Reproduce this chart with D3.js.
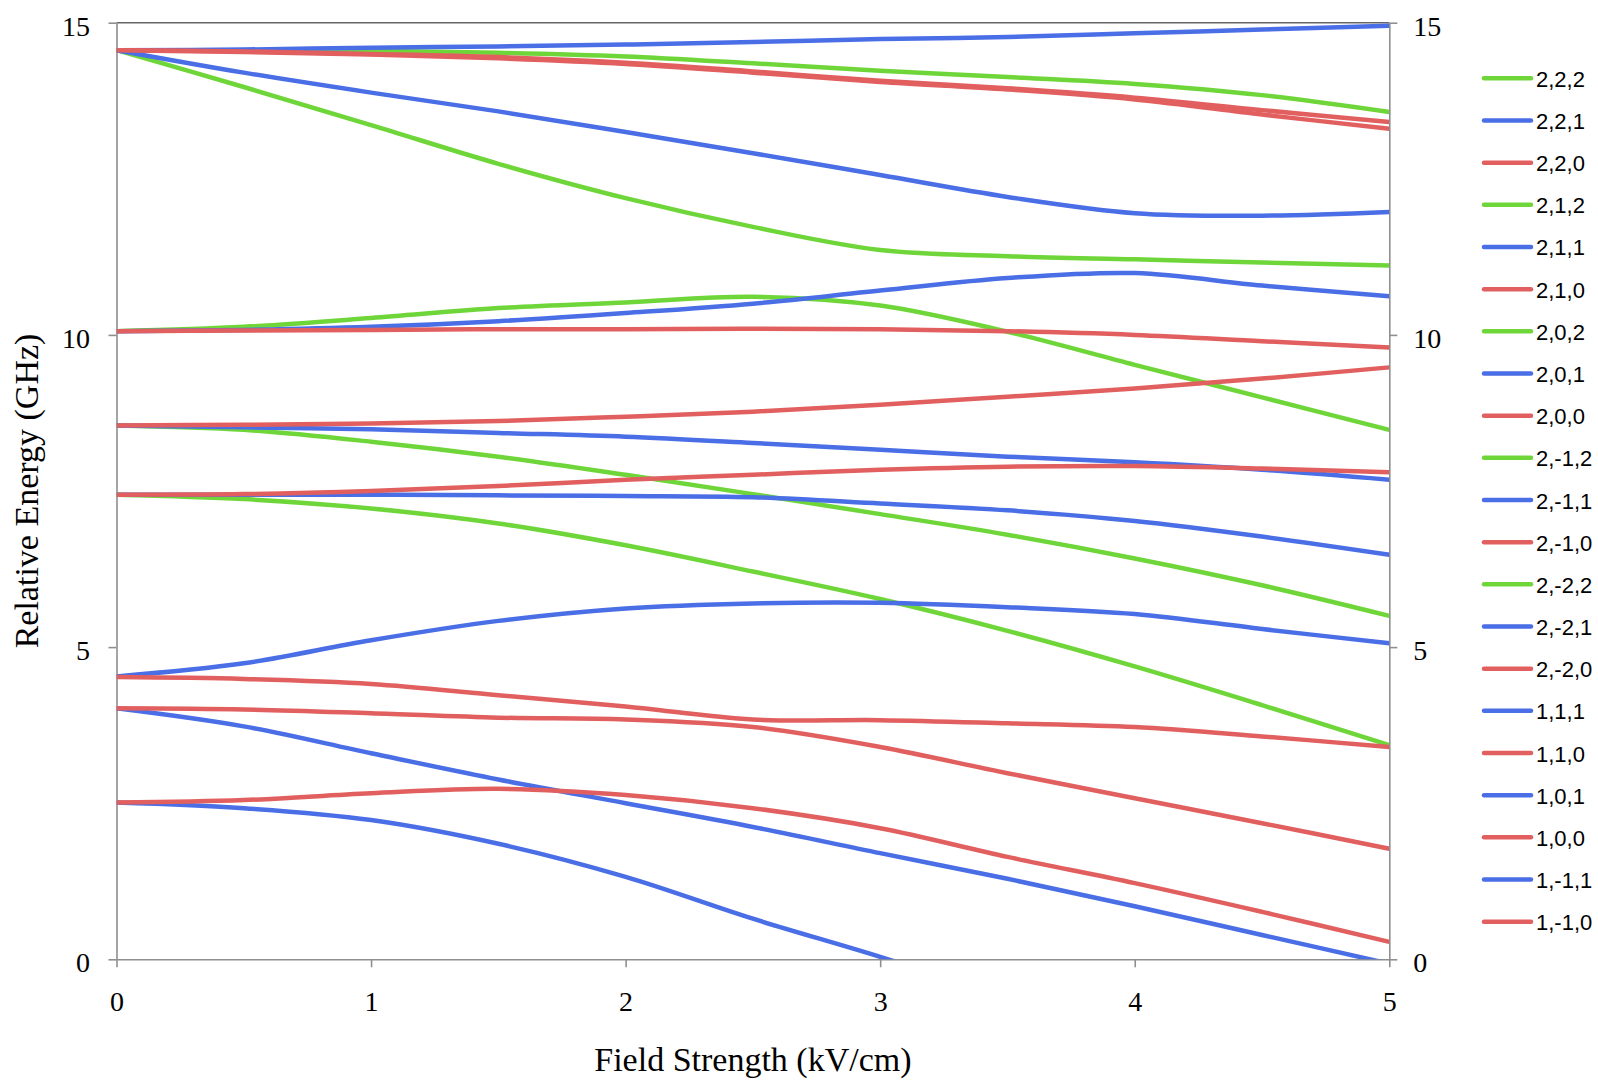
<!DOCTYPE html>
<html>
<head>
<meta charset="utf-8">
<script src="https://cdn.jsdelivr.net/npm/d3@7"></script>
<style>
  html, body { margin: 0; padding: 0; background: #fff; }
  svg { display: block; }
</style>
</head>
<body>
<svg id="chart" width="1598" height="1081"></svg>
<script>
// ---------------- data ----------------
const fieldStrength = [0, 0.5, 1, 1.5, 2, 2.5, 3, 3.5, 4, 4.5, 5];
const xTicks = [0, 1, 2, 3, 4, 5];
const yTicks = [0, 5, 10, 15];

const e222  = [14.56, 14.56, 14.55, 14.52, 14.46, 14.35, 14.23, 14.13, 14.02, 13.84, 13.57];
const e221  = [14.56, 14.57, 14.60, 14.62, 14.65, 14.69, 14.74, 14.77, 14.83, 14.89, 14.95];
const e220  = [14.56, 14.54, 14.50, 14.45, 14.36, 14.22, 14.07, 13.95, 13.80, 13.60, 13.41];
const e212  = [14.56, 13.97, 13.36, 12.74, 12.19, 11.73, 11.36, 11.26, 11.21, 11.16, 11.11];
const e211  = [14.56, 14.20, 13.88, 13.58, 13.25, 12.91, 12.56, 12.21, 11.95, 11.91, 11.97];
const e210  = [14.56, 14.53, 14.49, 14.43, 14.34, 14.20, 14.05, 13.93, 13.77, 13.53, 13.30];
const e202  = [10.06, 10.13, 10.27, 10.43, 10.52, 10.61, 10.47, 10.05, 9.52, 9.00, 8.48];
const e201  = [10.06, 10.08, 10.13, 10.22, 10.35, 10.50, 10.71, 10.91, 10.99, 10.79, 10.62];
const e200  = [10.06, 10.07, 10.08, 10.09, 10.09, 10.10, 10.09, 10.06, 10.00, 9.90, 9.80];
const e2m12 = [8.55, 8.48, 8.29, 8.05, 7.76, 7.45, 7.13, 6.80, 6.42, 5.99, 5.50];
const e2m11 = [8.55, 8.52, 8.49, 8.43, 8.37, 8.27, 8.16, 8.05, 7.96, 7.84, 7.68];
const e2m10 = [8.55, 8.56, 8.58, 8.62, 8.69, 8.77, 8.88, 9.01, 9.14, 9.30, 9.48];
const e2m22 = [7.44, 7.37, 7.22, 6.98, 6.63, 6.21, 5.77, 5.26, 4.69, 4.07, 3.43];
const e2m21 = [7.44, 7.44, 7.44, 7.43, 7.42, 7.40, 7.30, 7.19, 7.02, 6.77, 6.48];
const e2m20 = [7.44, 7.45, 7.50, 7.58, 7.68, 7.76, 7.84, 7.89, 7.90, 7.86, 7.80];
const e111  = [4.53, 4.74, 5.11, 5.42, 5.62, 5.70, 5.71, 5.64, 5.53, 5.29, 5.06];
const e110  = [4.52, 4.49, 4.41, 4.23, 4.05, 3.84, 3.83, 3.78, 3.72, 3.57, 3.40];
const e101  = [4.02, 3.73, 3.30, 2.88, 2.50, 2.12, 1.70, 1.29, 0.85, 0.39, -0.07];
const e100  = [4.02, 4.00, 3.94, 3.87, 3.84, 3.72, 3.40, 2.98, 2.58, 2.18, 1.77];
const e1m11 = [2.51, 2.42, 2.23, 1.85, 1.32, 0.65, 0.04, -0.62, null, null, null];
const e1m10 = [2.51, 2.55, 2.66, 2.73, 2.63, 2.42, 2.10, 1.64, 1.22, 0.76, 0.28];

const seriesNames = ["2,2,2","2,2,1","2,2,0","2,1,2","2,1,1","2,1,0","2,0,2","2,0,1","2,0,0",
  "2,-1,2","2,-1,1","2,-1,0","2,-2,2","2,-2,1","2,-2,0","1,1,1","1,1,0","1,0,1","1,0,0","1,-1,1","1,-1,0"];
const seriesValues = [e222, e221, e220, e212, e211, e210, e202, e201, e200,
  e2m12, e2m11, e2m10, e2m22, e2m21, e2m20, e111, e110, e101, e100, e1m11, e1m10];

// ---------------- layout / style ----------------
const colorByM = { "2": "#6fd63a", "1": "#4a6ee6", "0": "#e25f5f" };
const plotLeft = 116.5, plotRight = 1389.3, plotTop = 22.7, plotBottom = 959.3;
const axisColor = "#8f8f8f";
const serif = "'Liberation Serif', 'Times New Roman', serif";
const sans = "'Liberation Sans', Arial, sans-serif";

const svg = d3.select("#chart");
const x = d3.scaleLinear().domain([0, 5]).range([plotLeft, plotRight]);
const y = d3.scaleLinear().domain([0, 15]).range([plotBottom, plotTop]);

svg.append("defs").append("clipPath").attr("id", "plotclip")
  .append("rect").attr("x", plotLeft).attr("y", plotTop)
  .attr("width", plotRight - plotLeft).attr("height", plotBottom - plotTop);

// top border
svg.append("line").attr("x1", plotLeft).attr("x2", plotRight).attr("y1", plotTop).attr("y2", plotTop)
  .attr("stroke", "#666").attr("stroke-width", 1.5);

function styleAxis(g) {
  g.selectAll(".domain").attr("stroke", axisColor).attr("stroke-width", 1.6);
  g.selectAll(".tick line").attr("stroke", axisColor).attr("stroke-width", 1.6);
  g.selectAll(".tick text").attr("fill", "#000")
    .style("font-family", serif).style("font-size", "28px");
}

const gL = svg.append("g").attr("transform", `translate(${plotLeft},0)`)
  .call(d3.axisLeft(y).tickValues(yTicks).tickSize(8).tickSizeOuter(0).tickPadding(18.5));
gL.selectAll(".tick text").attr("dy", "0.45em");
styleAxis(gL);

const gR = svg.append("g").attr("transform", `translate(${plotRight},0)`)
  .call(d3.axisRight(y).tickValues(yTicks).tickSize(8).tickSizeOuter(0).tickPadding(16));
gR.selectAll(".tick text").attr("dy", "0.45em");
styleAxis(gR);

const gB = svg.append("g").attr("transform", `translate(0,${plotBottom})`)
  .call(d3.axisBottom(x).tickValues(xTicks).tickSize(8).tickSizeOuter(0).tickPadding(24)
    .tickFormat(d3.format("d")));
styleAxis(gB);

// series lines
const line = d3.line()
  .defined(d => d[1] !== null)
  .x(d => x(d[0])).y(d => y(d[1]))
  .curve(d3.curveCatmullRom.alpha(0.5));

const plot = svg.append("g").attr("clip-path", "url(#plotclip)");
seriesNames.forEach((name, i) => {
  const pts = fieldStrength.map((f, j) => [f, seriesValues[i][j]]);
  plot.append("path").datum(pts)
    .attr("d", line)
    .attr("fill", "none")
    .attr("stroke", colorByM[name.slice(-1)])
    .attr("stroke-width", 4.5)
    .attr("stroke-linejoin", "round")
    .attr("stroke-linecap", "butt");
});

// axis titles
svg.append("text").attr("x", (plotLeft + plotRight) / 2).attr("y", 1071)
  .attr("text-anchor", "middle").style("font-family", serif).style("font-size", "34px")
  .text("Field Strength (kV/cm)");
svg.append("text").attr("transform", `translate(38,${(plotTop + plotBottom) / 2}) rotate(-90)`)
  .attr("text-anchor", "middle").style("font-family", serif).style("font-size", "34px")
  .text("Relative Energy (GHz)");

// legend
const legY0 = 78.3, legStep = 42.17;
const leg = svg.append("g");
seriesNames.forEach((name, i) => {
  const ly = legY0 + i * legStep;
  leg.append("line").attr("x1", 1484).attr("x2", 1531).attr("y1", ly).attr("y2", ly)
    .attr("stroke", colorByM[name.slice(-1)]).attr("stroke-width", 4.5)
    .attr("stroke-linecap", "round");
  leg.append("text").attr("x", 1536).attr("y", ly + 8.5)
    .style("font-family", sans).style("font-size", "22px").attr("fill", "#000")
    .text(name);
});
</script>
</body>
</html>
